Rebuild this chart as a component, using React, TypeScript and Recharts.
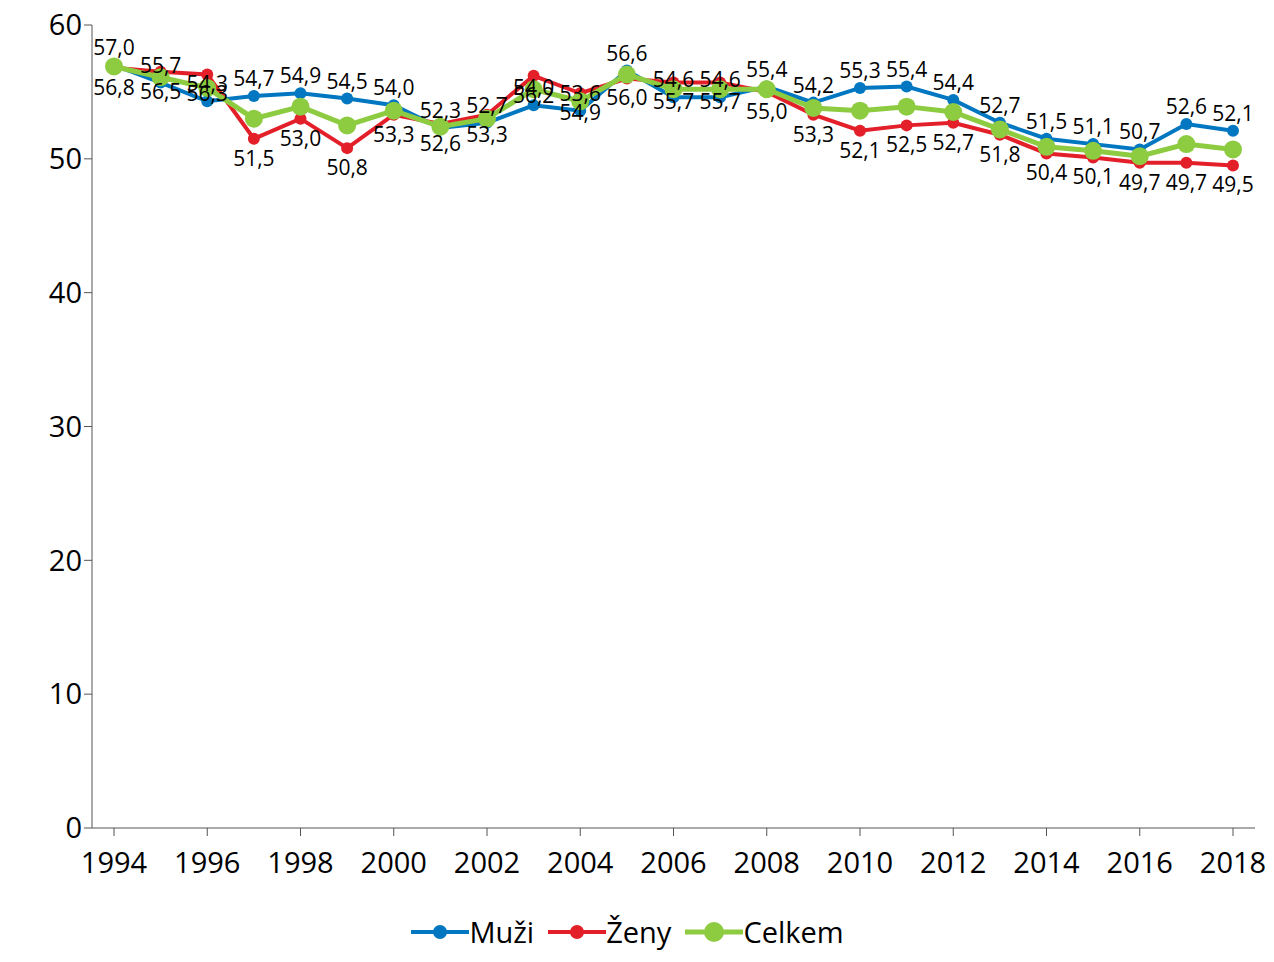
import { LineChart, Line, XAxis, YAxis, Legend, LabelList } from "recharts";

const YEARS = Array.from({ length: 25 }, (_, i) => String(1994 + i));
const MUZI = [57.0, 55.7, 54.3, 54.7, 54.9, 54.5, 54.0, 52.3, 52.7, 54.0, 53.6, 56.6, 54.6, 54.6, 55.4, 54.2, 55.3, 55.4, 54.4, 52.7, 51.5, 51.1, 50.7, 52.6, 52.1];
const ZENY = [56.8, 56.5, 56.3, 51.5, 53.0, 50.8, 53.3, 52.6, 53.3, 56.2, 54.9, 56.0, 55.7, 55.7, 55.0, 53.3, 52.1, 52.5, 52.7, 51.8, 50.4, 50.1, 49.7, 49.7, 49.5];
const CELKEM = [56.9, 56.1, 55.3, 53.0, 53.9, 52.5, 53.6, 52.4, 53.0, 55.2, 54.3, 56.3, 55.2, 55.2, 55.2, 53.8, 53.6, 53.9, 53.5, 52.2, 50.9, 50.6, 50.2, 51.1, 50.7];
const Y_TICKS = [0, 10, 20, 30, 40, 50, 60];

const SERIES = [
  { name: "Muži", color: "#0077C0", r: 6, w: 4 },
  { name: "Ženy", color: "#E3202A", r: 6, w: 4 },
  { name: "Celkem", color: "#8DCB41", r: 9, w: 5 },
];

const data = YEARS.map((y, i) => ({ year: y, muzi: MUZI[i], zeny: ZENY[i], celkem: CELKEM[i] }));
const fmt = (v: any) => Number(v).toFixed(1).replace(".", ",");
const font = "'Open Sans', sans-serif";
const lbl = { fill: "#000", fontSize: 21, fontFamily: font };

const LegendBox = () => (
  <div style={{ display: "flex", justifyContent: "center", gap: 14, fontSize: 29, fontFamily: font, color: "#000" }}>
    {SERIES.map((s) => (
      <span key={s.name} style={{ display: "flex", alignItems: "center" }}>
        <svg width={58} height={20}>
          <line x1={0} y1={10} x2={58} y2={10} stroke={s.color} strokeWidth={s.w} />
          <circle cx={29} cy={10} r={s.r + 1} fill={s.color} />
        </svg>
        {s.name}
      </span>
    ))}
  </div>
);

export default function App() {
  return (
    <div style={{ margin: -8, fontFamily: font }}>
      <LineChart width={1274} height={962} data={data} margin={{ top: 25, right: 19, left: 0, bottom: 0 }}>
        <XAxis
          dataKey="year"
          interval={1}
          padding={{ left: 22, right: 22 }}
          stroke="#555"
          tick={{ fill: "#000", fontSize: 29, fontFamily: font, dy: 14 }}
          tickSize={8}
          height={84}
        />
        <YAxis
          domain={[0, 60]}
          ticks={Y_TICKS}
          width={92}
          stroke="#555"
          tickSize={8}
          tick={{ fill: "#000", fontSize: 29, fontFamily: font }}
        />
        <Legend verticalAlign="bottom" height={50} content={<LegendBox />} />
        <Line name="Muži" dataKey="muzi" stroke="#0077C0" strokeWidth={4} dot={{ r: 6, fill: "#0077C0", strokeWidth: 0 }} isAnimationActive={false}>
          <LabelList dataKey="muzi" position="top" offset={10} formatter={fmt} style={lbl} />
        </Line>
        <Line name="Ženy" dataKey="zeny" stroke="#E3202A" strokeWidth={4} dot={{ r: 6, fill: "#E3202A", strokeWidth: 0 }} isAnimationActive={false}>
          <LabelList dataKey="zeny" position="bottom" offset={12} formatter={fmt} style={lbl} />
        </Line>
        <Line name="Celkem" dataKey="celkem" stroke="#8DCB41" strokeWidth={5} dot={{ r: 9, fill: "#8DCB41", strokeWidth: 0 }} isAnimationActive={false} />
      </LineChart>
    </div>
  );
}
